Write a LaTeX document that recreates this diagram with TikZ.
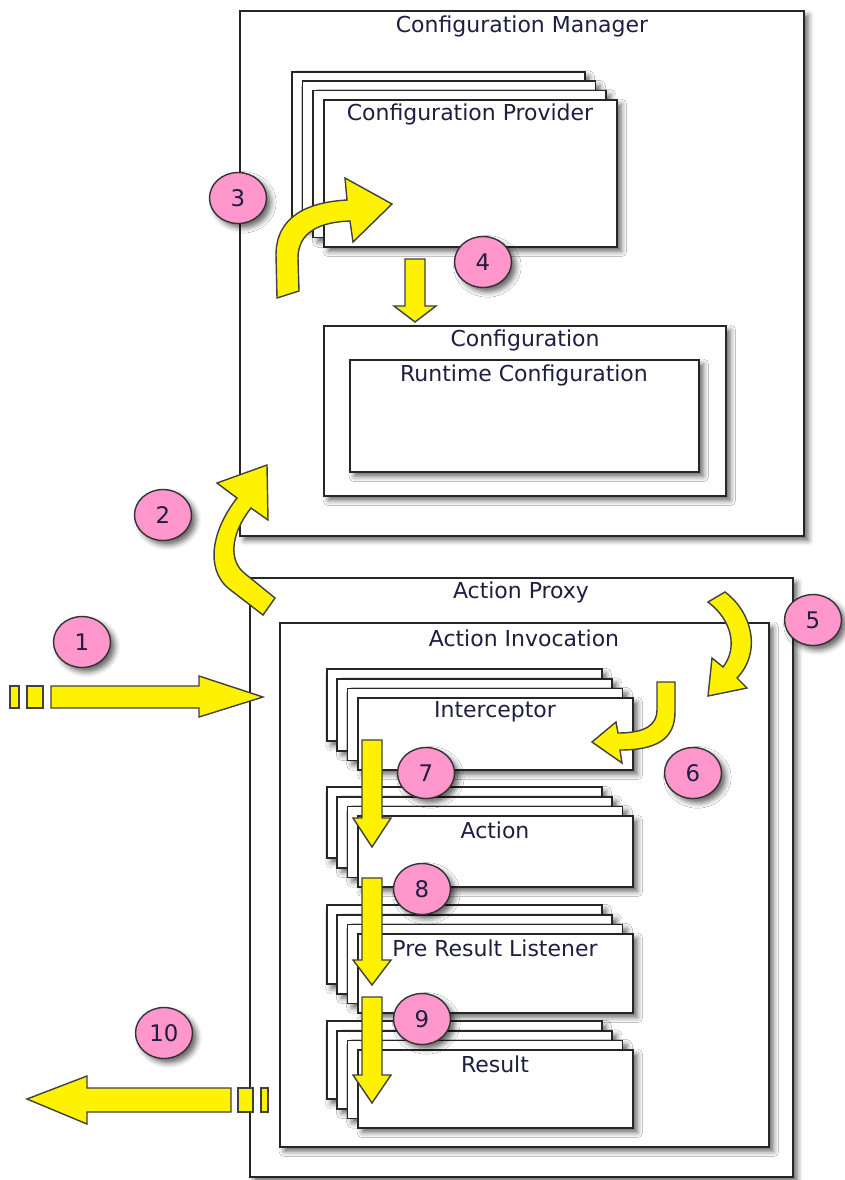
\documentclass[tikz,border=0pt]{standalone}
\usepackage{fontspec}
\setmainfont{DejaVu Sans}
\usetikzlibrary{shadows.blur,shapes.geometric}
\definecolor{flowyellow}{RGB}{255,242,0}
\definecolor{steppink}{RGB}{255,150,204}
\definecolor{labelblue}{RGB}{30,30,65}

\tikzset{
  boxshadow/.style={blur shadow={shadow xshift=2.5pt, shadow yshift=-2.5pt, shadow blur radius=3pt, shadow opacity=60}},
  box/.style={fill=white, draw=black!85, line width=1pt, boxshadow},
  flow/.style={fill=flowyellow, draw=black!75, line width=0.8pt, line join=miter},
  stepdot/.style={ellipse, fill=steppink, draw=black!80, line width=0.8pt, minimum width=1.14cm, minimum height=1.02cm, inner sep=0pt, text=labelblue, font=\fontsize{13}{15}\selectfont, boxshadow},
  title/.style={text=labelblue, font=\fontsize{12.5}{15}\selectfont, inner sep=0pt}
}

\begin{document}
\begin{tikzpicture}[x=0.02cm, y=-0.02cm]

  \useasboundingbox (0,0) rectangle (845,1180);

  % configuration manager
  \filldraw[box] (240,11) rectangle (804,536);
  \node[title] (cmtitle) at (522,26) {Configuration Manager};

  \foreach \k in {3,2,1}
    \filldraw[box] (324-10.7*\k,100-9.4*\k) rectangle (617-10.7*\k,247-9.4*\k);
  \filldraw[box] (324,100) rectangle (617,247);
  \node[title] (cptitle) at (470,114) {Configuration Provider};

  \filldraw[box] (324,326) rectangle (726,496);
  \node[title] (cfgtitle) at (525,340) {Configuration};
  \filldraw[box] (350,360) rectangle (699,472);
  \node[title] (rttitle) at (524,375) {Runtime Configuration};

  % action proxy
  \filldraw[box] (250,578) rectangle (793,1177);
  \node[title] (aptitle) at (521,592) {Action Proxy};
  \filldraw[box] (280,623) rectangle (769,1147);
  \node[title] (aititle) at (524,638) {Action Invocation};

  \foreach \name/\ytop/\ybot/\txt in {icpt/698/770/Interceptor, act/816/887/Action, prl/934/1013/Pre Result Listener, res/1050/1128/Result}
  {
    \foreach \k in {3,2,1}
      \filldraw[box] (358-10.4*\k,\ytop-9.6*\k) rectangle (633-10.4*\k,\ybot-9.6*\k);
    \filldraw[box] (358,\ytop) rectangle (633,\ybot);
    \node[title] (\name title) at (495,\ytop+14) {\txt};
  }

  % arrows
  \filldraw[flow] (10,686) rectangle (19,708);
  \filldraw[flow] (27,686) rectangle (43,708);
  \filldraw[flow] (51,686) -- (199,686) -- (199,676) -- (263,697) -- (199,717) -- (199,708) -- (51,708) -- cycle;

  \filldraw[flow] (263,615) -- (228,588) .. controls (205,568) and (212,530) .. (237,498)
    -- (217,483) -- (267,465) -- (268,520) -- (251,508)
    .. controls (232,532) and (228,558) .. (243,572) -- (275,598) -- cycle;

  \filldraw[flow] (277,298) -- (276,255) .. controls (276,215) and (310,202) .. (347,200)
    -- (345,178) -- (392,204) -- (353,242) -- (350,221)
    .. controls (320,222) and (298,232) .. (298,258) -- (299,291) -- cycle;

  \filldraw[flow] (708,602) -- (725,592) .. controls (752,612) and (762,652) .. (737,678)
    -- (747,688) -- (708,696) -- (712,658) -- (723,667)
    .. controls (738,648) and (732,620) .. cycle;

  \filldraw[flow] (657,682) -- (675,682) -- (675,712) .. controls (675,740) and (655,750) .. (620,750)
    -- (622,763) -- (592,742) -- (616,722) -- (618,733)
    .. controls (645,733) and (657,725) .. (657,710) -- cycle;

  \foreach \xc/\sw/\hw/\ytop/\ybase/\ytip in {415/10/21/259/306/322, 372/10/19/740/818/847, 372/10/19/878/960/985, 372/10/19/997/1075/1103}
    \filldraw[flow] (\xc-\sw,\ytop) -- (\xc+\sw,\ytop) -- (\xc+\sw,\ybase) -- (\xc+\hw,\ybase)
      -- (\xc,\ytip) -- (\xc-\hw,\ybase) -- (\xc-\sw,\ybase) -- cycle;

  \filldraw[flow] (231,1088) -- (87,1088) -- (87,1076) -- (27,1099) -- (87,1124) -- (87,1112) -- (231,1112) -- cycle;
  \filldraw[flow] (238,1088) rectangle (253,1112);
  \filldraw[flow] (261,1088) rectangle (268,1112);

  % numbered steps
  \foreach \n/\x/\y in {1/82/642, 2/163/515, 3/238/198, 4/483/262, 5/813/620, 6/693/773, 7/426/773, 8/422/889, 9/422/1019, 10/164/1033}
    \node[stepdot] (step\n) at (\x,\y) {\n};

\end{tikzpicture}
\end{document}
